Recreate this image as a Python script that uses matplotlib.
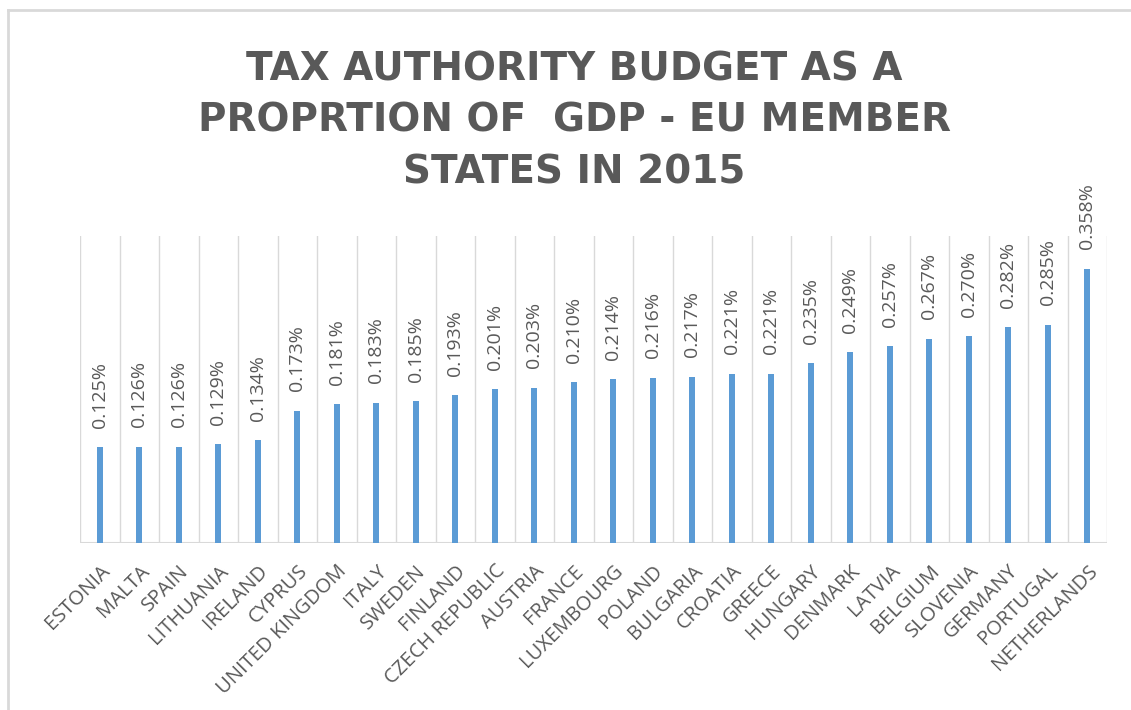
import matplotlib
matplotlib.use("Agg")
import matplotlib.pyplot as plt
from matplotlib.lines import Line2D
import numpy as np

countries = ["ESTONIA", "MALTA", "SPAIN", "LITHUANIA", "IRELAND", "CYPRUS",
             "UNITED KINGDOM", "ITALY", "SWEDEN", "FINLAND", "CZECH REPUBLIC",
             "AUSTRIA", "FRANCE", "LUXEMBOURG", "POLAND", "BULGARIA", "CROATIA",
             "GREECE", "HUNGARY", "DENMARK", "LATVIA", "BELGIUM", "SLOVENIA",
             "GERMANY", "PORTUGAL", "NETHERLANDS"]
values = [0.125, 0.126, 0.126, 0.129, 0.134, 0.173, 0.181, 0.183, 0.185, 0.193,
          0.201, 0.203, 0.210, 0.214, 0.216, 0.217, 0.221, 0.221, 0.235, 0.249,
          0.257, 0.267, 0.270, 0.282, 0.285, 0.358]
title = "TAX AUTHORITY BUDGET AS A\nPROPRTION OF  GDP - EU MEMBER\nSTATES IN 2015"

W, H = 1131, 710
fig = plt.figure(figsize=(W / 100, H / 100), dpi=100)
fig.patch.set_facecolor("white")

# outer chart border (only left and top edges visible)
bx, by = 7.5 / W, 1 - 9.5 / H
fig.add_artist(Line2D([bx, bx], [0, by], transform=fig.transFigure,
                      color="#d9d9d9", linewidth=2.0))
fig.add_artist(Line2D([bx, 1], [by, by], transform=fig.transFigure,
                      color="#d9d9d9", linewidth=2.0))

ax = fig.add_axes([80 / W, 1 - 543 / H, (1107 - 80) / W, (543 - 236) / H])
n = len(countries)
x = np.arange(n)
ax.bar(x, values, width=0.16, color="#5B9BD5", zorder=3)
ax.set_xlim(-0.5, n - 0.5)
ax.set_ylim(0, 0.401)

for b in np.arange(n + 1) - 0.5:
    ax.axvline(b, color="#d9d9d9", linewidth=1.0, zorder=1)
ax.axhline(0, color="#d9d9d9", linewidth=1.5, zorder=2)

for s in ax.spines.values():
    s.set_visible(False)
ax.set_yticks([])
ax.set_xticks(x)
ax.set_xticklabels(countries, rotation=45, ha="right", va="top",
                   rotation_mode="anchor", fontsize=14.5, color="#595959",
                   family="Open Sans")
ax.tick_params(axis="x", length=0, pad=13)

for xi, v in zip(x, values):
    ax.annotate(f"{v:.3f}%", (xi, v), xytext=(0, 14), textcoords="offset points",
                rotation=90, ha="center", va="bottom", fontsize=14,
                color="#595959", family="Open Sans", annotation_clip=False)

fig.text(0.508, 1 - 121 / H, title, ha="center", va="center", fontsize=28,
         fontweight="bold", color="#595959", family="DejaVu Sans",
         linespacing=1.45)

fig.savefig("out.png", dpi=100, facecolor="white")
